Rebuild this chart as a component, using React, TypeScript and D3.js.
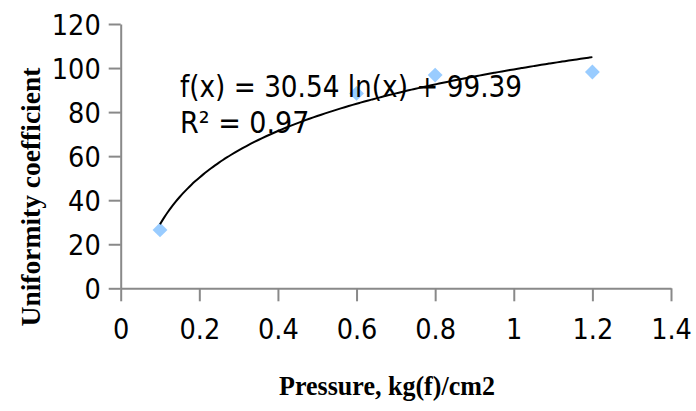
import * as d3 from "d3";
import { useEffect, useRef } from "react";

// measured points
const pressure = [0.1, 0.6, 0.8, 1.2];
const uniformity = [26.5, 88.5, 96.8, 98.2];
// log trendline coefficients shown on the chart
const trendA = 30.54;
const trendB = 99.39;
const eqLines = ["f(x) = 30.54 ln(x) + 99.39", "R² = 0.97"];
const xTicks = [0, 0.2, 0.4, 0.6, 0.8, 1, 1.2, 1.4];
const yTicks = [0, 20, 40, 60, 80, 100, 120];

const W = 696;
const H = 411;
const margin = { left: 120.7, right: 25, top: 24, bottom: 122.7 };
const sans = "'DejaVu Sans Condensed', 'DejaVu Sans', sans-serif";
const serif = "'Liberation Serif', 'Times New Roman', serif";
const axisColor = "#898989";
const tickFont = 28.5;

export default function App() {
  const ref = useRef<SVGSVGElement>(null);

  useEffect(() => {
    const svg = d3.select(ref.current);
    svg.selectAll("*").remove();

    const x = d3.scaleLinear().domain([0, 1.4]).range([margin.left, W - margin.right]);
    const y = d3.scaleLinear().domain([0, 120]).range([H - margin.bottom, margin.top]);

    // y axis
    const ya = svg.append("g").attr("transform", "translate(" + x(0) + ",0)")
      .call(d3.axisLeft(y).tickValues(yTicks).tickSize(12).tickSizeOuter(0).tickPadding(8));
    ya.select(".domain").attr("stroke", axisColor).attr("stroke-width", 2);
    ya.selectAll(".tick line").attr("stroke", axisColor).attr("stroke-width", 2);
    ya.selectAll("text").attr("font-family", sans).attr("font-size", tickFont).attr("fill", "#000")
      .attr("dy", "0.36em");

    // x axis
    const xa = svg.append("g").attr("transform", "translate(0," + y(0) + ")")
      .call(d3.axisBottom(x).tickValues(xTicks).tickSize(13).tickSizeOuter(0).tickPadding(17)
        .tickFormat(d => d3.format("~g")(d as number)));
    xa.select(".domain").attr("stroke", axisColor).attr("stroke-width", 2);
    xa.selectAll(".tick line").attr("stroke", axisColor).attr("stroke-width", 2);
    xa.selectAll("text").attr("font-family", sans).attr("font-size", tickFont).attr("fill", "#000");

    // points
    const pts = pressure.map((p, i) => ({ p: p, u: uniformity[i] }));
    svg.append("g").selectAll("path").data(pts).enter().append("path")
      .attr("d", d3.symbol().type(d3.symbolSquare).size(110)())
      .attr("transform", d => "translate(" + x(d.p) + "," + y(d.u) + ") rotate(45)")
      .attr("fill", "#99ccff");

    // trendline from equation
    const xs = d3.range(0, 111).map(i => 0.1 + i * 0.01);
    const line = d3.line<number>().x(d => x(d)).y(d => y(trendA * Math.log(d) + trendB)).curve(d3.curveMonotoneX);
    svg.append("path").datum(xs).attr("d", line).attr("fill", "none").attr("stroke", "#000").attr("stroke-width", 2);

    // equation
    svg.append("g").selectAll("text").data(eqLines).enter().append("text")
      .attr("x", 180).attr("y", (d, i) => 96.7 + i * 36)
      .attr("font-family", sans).attr("font-size", 30).attr("fill", "#000")
      .attr("textLength", (d, i) => i === 0 ? 342 : null)
      .attr("lengthAdjust", "spacingAndGlyphs")
      .text(d => d);

    // titles
    svg.append("text")
      .attr("transform", "translate(387,395) scale(0.93,1)")
      .attr("text-anchor", "middle").attr("font-family", serif).attr("font-weight", "bold")
      .attr("font-size", 28).text("Pressure, kg(f)/cm2");
    svg.append("text")
      .attr("transform", "translate(40,197) rotate(-90)")
      .attr("text-anchor", "middle").attr("font-family", serif).attr("font-weight", "bold")
      .attr("font-size", 27.5).text("Uniformity coefficient");
  }, []);

  return (
    <svg ref={ref} width={W} height={H}
      style={{ position: "absolute", left: 0, top: 0, background: "#fff" }} />
  );
}
